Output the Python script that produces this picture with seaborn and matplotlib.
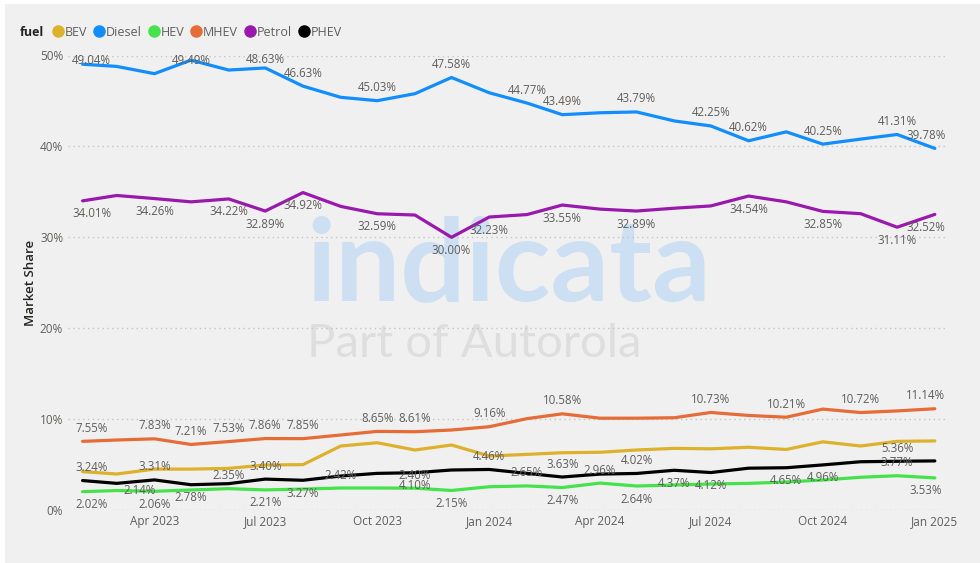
import pandas as pd
import matplotlib.pyplot as plt
import matplotlib.dates as mdates
from matplotlib.lines import Line2D
from matplotlib.patches import Rectangle
import seaborn as sns

# monthly market share by fuel type, Feb 2023 - Jan 2025
months = pd.date_range('2023-02-01', periods=24, freq='MS')

bev = [4.22, 3.96, 4.50, 4.50, 4.58, 4.95, 4.99, 7.04, 7.40, 6.60, 7.15, 5.94,
       6.12, 6.30, 6.35, 6.60, 6.78, 6.73, 6.90, 6.66, 7.50, 7.04, 7.55, 7.60]
diesel = [49.04, 48.80, 48.00, 49.49, 48.40, 48.63, 46.63, 45.40, 45.03, 45.80, 47.58, 45.90,
          44.77, 43.49, 43.70, 43.79, 42.80, 42.25, 40.62, 41.60, 40.25, 40.80, 41.31, 39.78]
hev = [2.02, 2.14, 2.06, 2.20, 2.35, 2.21, 2.30, 2.42, 2.42, 2.40, 2.15, 2.56,
       2.65, 2.47, 2.96, 2.64, 2.75, 2.86, 2.93, 3.08, 3.30, 3.60, 3.77, 3.53]
mhev = [7.55, 7.70, 7.83, 7.21, 7.53, 7.86, 7.85, 8.25, 8.65, 8.61, 8.80, 9.16,
        10.05, 10.58, 10.10, 10.10, 10.15, 10.73, 10.40, 10.21, 11.10, 10.72, 10.90, 11.14]
petrol = [34.01, 34.60, 34.26, 33.90, 34.22, 32.89, 34.92, 33.40, 32.59, 32.45, 30.00, 32.23,
          32.50, 33.55, 33.10, 32.89, 33.20, 33.45, 34.54, 33.90, 32.85, 32.60, 31.11, 32.52]
phev = [3.24, 2.93, 3.31, 2.78, 2.90, 3.40, 3.27, 3.74, 4.03, 4.10, 4.40, 4.46,
        4.03, 3.63, 3.95, 4.02, 4.37, 4.12, 4.60, 4.65, 4.96, 5.31, 5.36, 5.40]

fuels = ['BEV', 'Diesel', 'HEV', 'MHEV', 'Petrol', 'PHEV']
colors = {'BEV': '#DDB12B', 'Diesel': '#118DFF', 'HEV': '#45E24B',
          'MHEV': '#E66C37', 'Petrol': '#9A19AD', 'PHEV': '#000000'}

# data labels: month index -> vertical offset in px (+ above, - below)
UP, DN = 13, -13
label_pos = {
    'Diesel': {0: 4, 3: 0, 5: 8, 6: UP, 8: UP, 10: UP, 12: UP, 13: UP, 15: UP,
               17: UP, 18: UP, 20: UP, 22: UP, 23: UP},
    'Petrol': {i: DN for i in [0, 2, 4, 5, 6, 8, 10, 11, 13, 15, 18, 20, 22, 23]},
    'MHEV': {i: UP for i in [0, 2, 3, 4, 5, 6, 8, 9, 11, 13, 17, 19, 21, 23]},
    'PHEV': {0: UP, 2: UP, 5: UP, 11: UP, 13: UP, 15: UP, 22: UP,
             3: DN, 6: DN, 9: DN, 16: DN, 17: DN, 19: DN, 20: DN},
    'HEV': {0: DN, 2: DN, 5: DN, 10: DN, 13: DN, 15: DN, 23: DN,
            4: UP, 7: UP, 9: UP, 12: UP, 14: UP, 22: UP, 1: 0},
}
label_dx = {0: 9, 23: -9}

sns.set_style('white')
plt.rcParams['font.family'] = ['Open Sans', 'DejaVu Sans']

df = pd.DataFrame({'month': months, 'BEV': bev, 'Diesel': diesel, 'HEV': hev,
                   'MHEV': mhev, 'Petrol': petrol, 'PHEV': phev})
long = df.melt(id_vars='month', var_name='fuel', value_name='share')

W, H = 980, 563
fig = plt.figure(figsize=(W / 100, H / 100), dpi=100, facecolor='white')
fig.add_artist(Rectangle((5 / W, 0), 1, (H - 4) / H, transform=fig.transFigure,
                         facecolor='#f0f0f0', edgecolor='none', zorder=-10))

ax = fig.add_axes([68 / W, 53 / H, 879 / W, 454.5 / H])
ax.set_facecolor('none')

sns.lineplot(data=long, x='month', y='share', hue='fuel', hue_order=fuels,
             palette=colors, linewidth=2.3, legend=False, ax=ax, zorder=3)

# watermark
ax.text(307 / W, 1 - 300 / H, 'indicata', transform=fig.transFigure, fontfamily='Lato',
        fontweight='bold', fontsize=83, color='#cddff2', zorder=0.5)
ax.text(307 / W, 1 - 357 / H, 'Part of Autorola', transform=fig.transFigure,
        fontfamily='Lato', fontweight='normal', fontsize=34, color='#dedede', zorder=0.5)

series = dict(zip(fuels, [bev, diesel, hev, mhev, petrol, phev]))
for fuel, pos in label_pos.items():
    vals = series[fuel]
    for i, dy in pos.items():
        dx = label_dx.get(i, 0)
        if fuel == 'HEV' and i == 1:
            dx = 23
        ax.annotate(f'{vals[i]:.2f}%', (months[i], vals[i]),
                    xytext=(dx * 0.72, dy * 0.72), textcoords='offset points',
                    ha='center', va='center', fontsize=8.3, color='#605e5c', zorder=4)

ax.set_ylim(0, 50)
ax.set_yticks([0, 10, 20, 30, 40, 50])
ax.yaxis.set_major_formatter(lambda v, p: f'{v:.0f}%')
ax.set_xlim(months[0] - pd.Timedelta(days=12), months[-1] + pd.Timedelta(days=10))
ax.xaxis.set_major_locator(mdates.MonthLocator(bymonth=[1, 4, 7, 10]))
ax.xaxis.set_major_formatter(mdates.DateFormatter('%b %Y'))
ax.tick_params(length=0, labelsize=8.5, labelcolor='#605e5c', pad=3.5)
ax.grid(axis='y', linestyle=(0, (1, 2.5)), color='#c4c4c4', linewidth=1)
ax.grid(axis='x', visible=False)
sns.despine(ax=ax, left=True, bottom=True)
ax.set_xlabel('')
ax.set_ylabel('Market Share', fontsize=9.5, fontweight='semibold', color='#252423', labelpad=2)

# legend across the top
fig.text(20 / W, 1 - 32 / H, 'fuel', fontsize=9, fontweight='bold', color='#252423', va='center')
handles = [Line2D([], [], marker='o', linestyle='', markersize=8, color=colors[f]) for f in fuels]
fig.legend(handles, fuels, loc='center left', bbox_to_anchor=(52 / W, 1 - 32 / H), ncol=6,
           frameon=False, fontsize=9, handletextpad=0.1, columnspacing=0.5,
           handlelength=0.9, borderpad=0, borderaxespad=0, labelcolor='#605e5c')

fig.savefig('out.png', dpi=100)
